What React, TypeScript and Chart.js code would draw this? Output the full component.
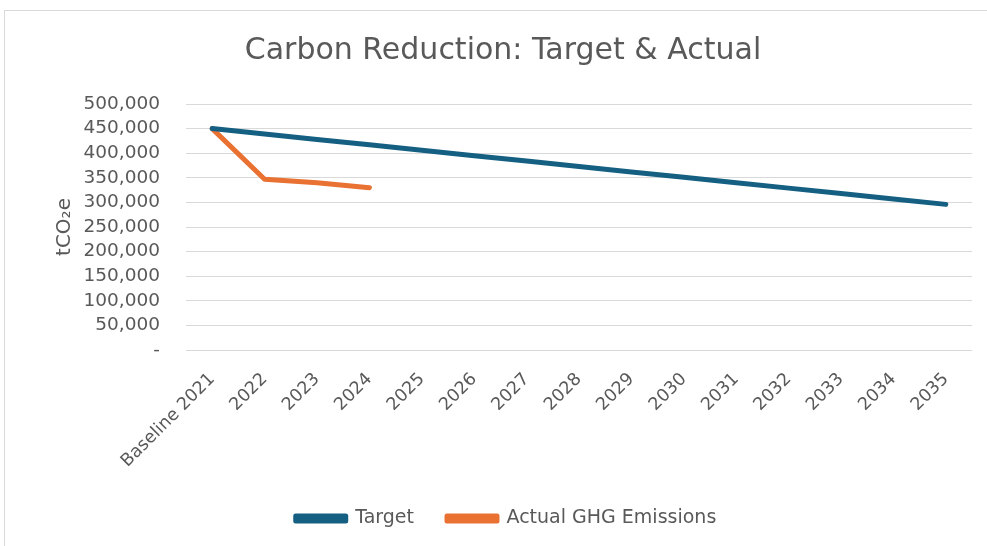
import React, { useEffect, useRef } from "react";
import { Chart, registerables } from "chart.js";

Chart.register(...registerables);

const categories = [
  "Baseline 2021", "2022", "2023", "2024", "2025", "2026", "2027", "2028",
  "2029", "2030", "2031", "2032", "2033", "2034", "2035",
];
const targetValues = [
  450000, 439000, 428000, 417000, 406000, 395000, 384000, 373000,
  362000, 351000, 340000, 329000, 318000, 307000, 296000,
];
const actualValues = [450000, 347000, 340000, 330000];
const yTickValues = [
  0, 50000, 100000, 150000, 200000, 250000, 300000, 350000, 400000, 450000, 500000,
];
const titleText = "Carbon Reduction: Target & Actual";
const yTitle = "tCO\u2082e";

const FONT = "'DejaVu Sans', sans-serif";
const GREY = "#595959";

const LEGEND_DX = 18;
const TITLE_DX = 15;

const blockShift = {
  id: "blockShift",
  afterLayout(chart: any) {
    const lg = chart.legend;
    if (lg) {
      lg.left += LEGEND_DX;
      lg.right += LEGEND_DX;
    }
    const tb = chart.titleBlock;
    if (tb) {
      tb.left += TITLE_DX;
      tb.right += TITLE_DX;
    }
  },
};

export default function App() {
  const ref = useRef<HTMLCanvasElement | null>(null);
  useEffect(() => {
    if (!ref.current) return;
    const chart = new Chart(ref.current, {
      type: "line",
      data: {
        labels: categories,
        datasets: [
          {
            label: "Target",
            data: targetValues,
            borderColor: "#156082",
            backgroundColor: "#156082",
            borderWidth: 5,
            borderCapStyle: "round",
            borderJoinStyle: "round",
            pointRadius: 0,
            tension: 0,
          },
          {
            label: "Actual GHG Emissions",
            data: actualValues,
            borderColor: "#E97132",
            backgroundColor: "#E97132",
            borderWidth: 5,
            borderCapStyle: "round",
            borderJoinStyle: "round",
            pointRadius: 0,
            tension: 0,
          },
        ],
      },
      plugins: [blockShift],
      options: {
        animation: false,
        responsive: false,
        maintainAspectRatio: false,
        layout: { padding: { left: 0, right: 15, top: 0, bottom: 8 } },
        plugins: {
          title: {
            display: true,
            text: titleText,
            color: GREY,
            font: { family: FONT, size: 30, weight: "normal" },
            padding: { top: 23, bottom: 35 },
          },
          legend: {
            position: "bottom",
            labels: {
              color: GREY,
              font: { family: FONT, size: 19 },
              boxWidth: 50,
              boxHeight: 5,
              padding: 33,
            },
          },
          tooltip: { enabled: false },
        },
        scales: {
          x: {
            offset: true,
            grid: { display: false },
            border: { display: false },
            afterFit: (s: any) => {
              s.height = 126;
            },
            ticks: {
              color: GREY,
              font: { family: FONT, size: 17.5 },
              minRotation: 45,
              maxRotation: 45,
              autoSkip: false,
              padding: 11,
            },
          },
          y: {
            min: 0,
            max: 500000,
            border: { display: false },
            grid: { color: "#d9d9d9", lineWidth: 1, drawTicks: false },
            afterFit: (s: any) => {
              s.width = 182;
            },
            afterBuildTicks: (s: any) => {
              s.ticks = yTickValues.map((v) => ({ value: v }));
            },
            ticks: {
              autoSkip: false,
              color: GREY,
              font: { family: FONT, size: 18.5 },
              padding: 26,
              callback: (v: any) => (Number(v) === 0 ? "-" : Number(v).toLocaleString("en-US")),
            },
            title: {
              display: true,
              text: yTitle,
              color: GREY,
              font: { family: FONT, size: 20 },
              padding: { top: 49, bottom: 0 },
            },
          },
        },
      },
    });
    return () => chart.destroy();
  }, []);

  return (
    <div style={{ position: "fixed", left: 0, top: 0, width: 987, height: 546, overflow: "hidden", background: "#fff" }}>
      <div
        style={{
          position: "absolute",
          left: 4,
          top: 10,
          width: 1000,
          height: 600,
          borderLeft: "1px solid #d9d9d9",
          borderTop: "1px solid #d9d9d9",
        }}
      />
      <canvas ref={ref} width={983} height={536} style={{ position: "absolute", left: 4, top: 10, width: 983, height: 536 }} />
    </div>
  );
}
